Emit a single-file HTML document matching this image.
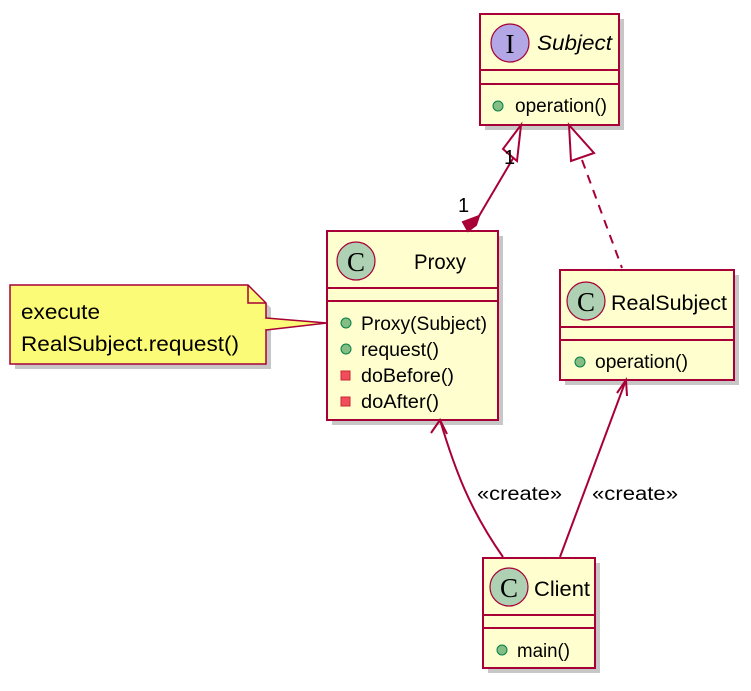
<!DOCTYPE html>
<html><head><style>
html,body{margin:0;padding:0;background:#fff;}
svg text{font-family:"Liberation Sans",sans-serif;}
</style></head><body>
<svg width="751" height="686" viewBox="0 0 751 686" xmlns="http://www.w3.org/2000/svg">
<g fill="#000" opacity="0.22">
<rect x="485" y="19" width="139" height="111"/>
<rect x="332" y="236" width="171" height="189"/>
<rect x="565" y="275" width="174" height="110"/>
<rect x="488" y="563" width="112" height="110"/>
<path d="M15 290 H253 L271 308 V369 H15 Z"/>
</g>
<g stroke="#A80036" stroke-width="2" fill="#FEFECE">
<rect x="480" y="14" width="139" height="111"/>
<line x1="480" y1="70" x2="619" y2="70"/><line x1="480" y1="84" x2="619" y2="84"/>
<rect x="327" y="231" width="171" height="189"/>
<line x1="327" y1="288" x2="498" y2="288"/><line x1="327" y1="301" x2="498" y2="301"/>
<rect x="560" y="270" width="174" height="110"/>
<line x1="560" y1="327" x2="734" y2="327"/><line x1="560" y1="340" x2="734" y2="340"/>
<rect x="483" y="558" width="112" height="110"/>
<line x1="483" y1="615" x2="595" y2="615"/><line x1="483" y1="628" x2="595" y2="628"/>
</g>
<path d="M10 285 H248 L266 303 V364 H10 Z" fill="#FBFB77" stroke="#A80036" stroke-width="1.5"/>
<path d="M248 285 V303 H266" fill="none" stroke="#A80036" stroke-width="1.5"/>
<path d="M266 318 L327 323 L266 330" fill="#FBFB77" stroke="#A80036" stroke-width="1.5"/>
<line x1="266" y1="319" x2="266" y2="329" stroke="#FBFB77" stroke-width="2.5"/>
<text x="21" y="319" font-size="21" textLength="79" lengthAdjust="spacingAndGlyphs">execute</text>
<text x="21" y="351" font-size="21" textLength="218" lengthAdjust="spacingAndGlyphs">RealSubject.request()</text>
<g stroke="#A80036" stroke-width="2" fill="none">
<line x1="515" y1="155" x2="479" y2="216"/>
<path d="M521 125 L503 149 L517 161 Z" fill="#fff"/>
<path d="M479 216 L476 225 L468 231 L463 222 Z" fill="#A80036"/>
<line x1="582" y1="160" x2="622" y2="268" stroke-dasharray="9,7"/>
<path d="M569 125 L571 161 L594 153 Z" fill="#fff"/>
<path d="M440 420 C455 470 470 510 503 557"/>
<path d="M431 433 L440 420 L447 434"/>
<path d="M626 380 L560 557"/>
<path d="M617 393 L626 380 L627 396"/>
</g>
<text x="504" y="164" font-size="20" fill="#000">1</text>
<text x="458" y="212" font-size="20" fill="#000">1</text>
<text x="477" y="500" font-size="19" textLength="85" lengthAdjust="spacingAndGlyphs">«create»</text>
<text x="592" y="500" font-size="19" textLength="86" lengthAdjust="spacingAndGlyphs">«create»</text>
<g stroke="#A80036" stroke-width="1.2">
<circle cx="510" cy="43" r="19" fill="#B4A7E5"/>
<circle cx="356" cy="261" r="19" fill="#ADD1B2"/>
<circle cx="586" cy="301" r="19" fill="#ADD1B2"/>
<circle cx="509" cy="587" r="19" fill="#ADD1B2"/>
</g>
<g font-size="27" text-anchor="middle" fill="#000">
<text x="510" y="53" style="font-family:'Liberation Serif',serif">I</text>
<text x="356" y="271" style="font-family:'Liberation Serif',serif">C</text>
<text x="586" y="311" style="font-family:'Liberation Serif',serif">C</text>
<text x="509" y="597" style="font-family:'Liberation Serif',serif">C</text>
</g>
<text x="537" y="50" font-size="21" font-style="italic" textLength="75" lengthAdjust="spacingAndGlyphs">Subject</text>
<text x="414" y="269" font-size="21" textLength="52" lengthAdjust="spacingAndGlyphs">Proxy</text>
<text x="611" y="310" font-size="21" textLength="116" lengthAdjust="spacingAndGlyphs">RealSubject</text>
<text x="534" y="596" font-size="21" textLength="56" lengthAdjust="spacingAndGlyphs">Client</text>
<g fill="#84BE84" stroke="#038048" stroke-width="1">
<circle cx="498" cy="106" r="5"/>
<circle cx="346" cy="323" r="5"/>
<circle cx="346" cy="349" r="5"/>
<circle cx="580" cy="362" r="5"/>
<circle cx="502" cy="650" r="5"/>
</g>
<g fill="#F24D5C" stroke="#C82930" stroke-width="1">
<rect x="341" y="371" width="9" height="9"/>
<rect x="341" y="397" width="9" height="9"/>
</g>
<g font-size="19" fill="#000">
<text x="515" y="112" textLength="92" lengthAdjust="spacingAndGlyphs">operation()</text>
<text x="361" y="330" textLength="126" lengthAdjust="spacingAndGlyphs">Proxy(Subject)</text>
<text x="361" y="356" textLength="78" lengthAdjust="spacingAndGlyphs">request()</text>
<text x="361" y="382" textLength="93" lengthAdjust="spacingAndGlyphs">doBefore()</text>
<text x="361" y="408" textLength="78" lengthAdjust="spacingAndGlyphs">doAfter()</text>
<text x="595" y="368" textLength="93" lengthAdjust="spacingAndGlyphs">operation()</text>
<text x="517" y="657" textLength="53" lengthAdjust="spacingAndGlyphs">main()</text>
</g>
</svg>
</body></html>
